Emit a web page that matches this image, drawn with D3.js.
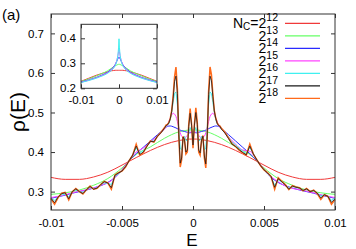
<!DOCTYPE html>
<html><head><meta charset="utf-8">
<script src="https://cdn.jsdelivr.net/npm/d3@7"></script>
<style>
body{margin:0;background:#fff;}
text{font-family:"Liberation Sans",Arial,Helvetica,sans-serif;fill:#000;}
</style></head>
<body><svg id="c" width="356" height="249"></svg>
<script>
// ---------- data ----------
const seriesNames = ["12","13","14","15","16","17","18"];
const seriesColors = ["#f03a3a","#66ff66","#2a2aff","#ff44ff","#3ff0f0","#1a1a1a","#ff6a1a"];

const xTicks = [-0.01,-0.005,0,0.005,0.01];
const xTickLabels = ["-0.01","-0.005","0","0.005","0.01"];
const yTicks = [0.3,0.4,0.5,0.6,0.7];
const yTickLabels = ["0.3","0.4","0.5","0.6","0.7"];

const eCoarse = [-0.01,-0.009,-0.008,-0.007,-0.006,-0.005,-0.004,-0.003,-0.002,-0.001,0,0.001,0.002,0.003,0.004,0.005,0.006,0.007,0.008,0.009,0.01];
const rho12 = [0.336,0.331,0.331,0.337,0.349,0.367,0.386,0.404,0.419,0.429,0.433,0.429,0.419,0.404,0.386,0.367,0.349,0.337,0.331,0.331,0.336];
const rho13 = [0.293,0.297,0.304,0.316,0.333,0.360,0.394,0.413,0.435,0.451,0.456,0.451,0.435,0.413,0.394,0.360,0.333,0.316,0.304,0.297,0.293];

const eMid = [-0.01,-0.0095,-0.009,-0.0085,-0.008,-0.0075,-0.007,-0.0065,-0.006,-0.0055,-0.005,-0.0045,-0.004,-0.0035,-0.003,-0.0025,
 -0.0022,-0.002,-0.0018,-0.0016,-0.0014,-0.0012,-0.001,-0.0008,-0.0006,-0.0004,-0.0002,0,0.0002,0.0004,0.0006,0.0008,0.001,0.0012,0.0014,0.0016,0.0018,0.002,0.0022,
 0.0025,0.003,0.0035,0.004,0.0045,0.005,0.0055,0.006,0.0065,0.007,0.0075,0.008,0.0085,0.009,0.0095,0.01];
const rho14 = [0.283,0.287,0.291,0.296,0.300,0.304,0.309,0.315,0.323,0.336,0.355,0.378,0.396,0.412,0.428,0.444,
 0.453,0.460,0.465,0.466,0.464,0.461,0.457,0.454,0.452,0.450,0.449,0.449,0.449,0.450,0.452,0.454,0.457,0.461,0.464,0.466,0.465,0.460,0.453,
 0.444,0.428,0.412,0.396,0.378,0.355,0.336,0.323,0.315,0.309,0.304,0.300,0.296,0.291,0.287,0.283];
const rho15 = [0.285,0.288,0.292,0.297,0.301,0.305,0.309,0.316,0.322,0.335,0.355,0.379,0.400,0.410,0.425,0.440,
 0.450,0.458,0.468,0.486,0.498,0.490,0.462,0.440,0.436,0.442,0.450,0.452,0.450,0.442,0.436,0.440,0.462,0.490,0.498,0.486,0.468,0.458,0.450,
 0.438,0.420,0.405,0.402,0.380,0.357,0.338,0.325,0.314,0.308,0.305,0.301,0.297,0.292,0.288,0.285];

const eFine = [-0.01,-0.00975,-0.0095,-0.00925,-0.009,-0.00875,-0.0085,-0.00825,-0.008,-0.00775,-0.0075,-0.00725,-0.007,-0.00675,-0.0065,-0.00625,-0.006,-0.00575,-0.0055,-0.00525,-0.005,-0.00475,-0.0045,-0.00425,-0.004,-0.00375,-0.0035,-0.00325,-0.003,-0.00275,-0.0025,-0.00225,-0.002,
 -0.0019,-0.0018,-0.0017,-0.0016,-0.0015,-0.0014,-0.0013,-0.0012,-0.0011,-0.001,-0.0009,-0.0008,-0.0007,-0.0006,-0.0005,-0.0004,-0.0003,-0.0002,-0.0001,0,0.0001,0.0002,0.0003,0.0004,0.0005,0.0006,0.0007,0.0008,0.0009,0.001,0.0011,0.0012,0.0013,0.0014,0.0015,0.0016,0.0017,0.0018,0.0019,
 0.002,0.00225,0.0025,0.00275,0.003,0.00325,0.0035,0.00375,0.004,0.00425,0.0045,0.00475,0.005,0.00525,0.0055,0.00575,0.006,0.00625,0.0065,0.00675,0.007,0.00725,0.0075,0.00775,0.008,0.00825,0.0085,0.00875,0.009,0.00925,0.0095,0.00975,0.01];
const rho16 = [0.283,0.278,0.287,0.292,0.293,0.287,0.300,0.304,0.300,0.298,0.305,0.310,0.307,0.310,0.317,0.322,0.321,0.318,0.338,0.345,0.353,0.364,0.379,0.393,0.410,0.398,0.404,0.415,0.427,0.428,0.440,0.449,0.460,
 0.465,0.468,0.472,0.482,0.500,0.525,0.548,0.552,0.520,0.460,0.410,0.405,0.430,0.440,0.430,0.428,0.448,0.462,0.455,0.445,0.455,0.462,0.448,0.428,0.430,0.440,0.430,0.405,0.410,0.460,0.520,0.552,0.548,0.525,0.500,0.482,0.472,0.468,0.465,
 0.458,0.449,0.438,0.425,0.418,0.410,0.402,0.396,0.412,0.396,0.380,0.367,0.356,0.347,0.337,0.316,0.330,0.324,0.317,0.309,0.313,0.311,0.308,0.304,0.306,0.301,0.302,0.297,0.288,0.293,0.289,0.278,0.283];
const rho17 = [0.283,0.272,0.286,0.295,0.297,0.282,0.300,0.307,0.300,0.295,0.305,0.313,0.306,0.309,0.318,0.325,0.322,0.310,0.341,0.347,0.352,0.363,0.378,0.392,0.415,0.394,0.400,0.414,0.427,0.426,0.440,0.449,0.461,
 0.467,0.469,0.474,0.484,0.503,0.535,0.578,0.592,0.548,0.445,0.372,0.385,0.438,0.432,0.400,0.405,0.465,0.498,0.468,0.418,0.468,0.500,0.470,0.405,0.398,0.430,0.440,0.390,0.370,0.440,0.545,0.592,0.580,0.540,0.504,0.485,0.473,0.467,0.465,
 0.458,0.448,0.434,0.420,0.414,0.406,0.399,0.393,0.415,0.395,0.380,0.366,0.355,0.347,0.338,0.311,0.333,0.325,0.317,0.306,0.314,0.311,0.309,0.303,0.307,0.300,0.303,0.296,0.284,0.292,0.288,0.273,0.281];
const rho18 = [0.282,0.268,0.285,0.296,0.298,0.279,0.300,0.308,0.300,0.294,0.305,0.314,0.306,0.308,0.318,0.326,0.322,0.306,0.342,0.348,0.352,0.362,0.378,0.392,0.420,0.392,0.398,0.415,0.428,0.425,0.440,0.450,0.462,
 0.468,0.470,0.475,0.485,0.505,0.540,0.590,0.615,0.560,0.440,0.362,0.380,0.440,0.430,0.395,0.400,0.470,0.510,0.470,0.410,0.470,0.512,0.475,0.400,0.392,0.428,0.442,0.385,0.360,0.435,0.555,0.615,0.595,0.545,0.505,0.486,0.474,0.468,0.466,
 0.460,0.450,0.436,0.421,0.414,0.405,0.398,0.392,0.420,0.395,0.380,0.366,0.355,0.348,0.338,0.306,0.335,0.326,0.318,0.305,0.315,0.312,0.310,0.302,0.308,0.300,0.304,0.295,0.280,0.292,0.288,0.268,0.280];

// inset
const insetXTicks = [-0.01,0,0.01];
const insetXTickLabels = ["-0.01","0","0.01"];
const insetYTicks = [0.2,0.3,0.4];
const insetYTickLabels = ["0.2","0.3","0.4"];
const insetE = [-0.01,-0.008,-0.006,-0.004,-0.003,-0.002,-0.0015,-0.001,-0.0006,-0.0003,-0.0001,0,0.0001,0.0003,0.0006,0.001,0.0015,0.002,0.003,0.004,0.006,0.008,0.01];
const inset12 = [0.228,0.240,0.252,0.262,0.266,0.270,0.271,0.272,0.272,0.272,0.272,0.272,0.272,0.272,0.272,0.272,0.271,0.270,0.266,0.262,0.252,0.240,0.228];
const inset13 = [0.227,0.237,0.249,0.262,0.270,0.280,0.285,0.290,0.293,0.295,0.296,0.296,0.296,0.295,0.293,0.290,0.285,0.280,0.270,0.262,0.249,0.237,0.227];
const inset14 = [0.225,0.233,0.243,0.256,0.264,0.276,0.284,0.295,0.308,0.318,0.323,0.324,0.323,0.318,0.308,0.295,0.284,0.276,0.264,0.256,0.243,0.233,0.225];
const inset15 = [0.224,0.232,0.242,0.254,0.262,0.273,0.281,0.293,0.310,0.330,0.348,0.356,0.348,0.330,0.310,0.293,0.281,0.273,0.262,0.254,0.242,0.232,0.224];
const inset16 = [0.223,0.231,0.240,0.252,0.260,0.271,0.279,0.290,0.307,0.330,0.365,0.398,0.365,0.330,0.307,0.290,0.279,0.271,0.260,0.252,0.240,0.231,0.223];

// ---------- drawing ----------
const svg = d3.select("#c");
const L=51,R=335,T=14,B=210;
const x = d3.scaleLinear().domain([-0.01,0.01]).range([L,R]);
const y = d3.scaleLinear().domain([0.2535,0.749]).range([B,T]);

const main = [
  {e:eCoarse,v:rho12,c:0,curve:d3.curveMonotoneX},
  {e:eCoarse,v:rho13,c:1,curve:d3.curveMonotoneX},
  {e:eMid,v:rho14,c:2,curve:d3.curveMonotoneX},
  {e:eMid,v:rho15,c:3,curve:d3.curveMonotoneX},
  {e:eFine,v:rho16,c:4,curve:d3.curveLinear},
  {e:eFine,v:rho18,c:6,curve:d3.curveLinear,w:1.5},
  {e:eFine,v:rho17,c:5,curve:d3.curveLinear,w:0.8}
];
const gLines = svg.append("g");
main.forEach(s=>{
  const pts = s.e.map((e,i)=>[e,s.v[i]]);
  gLines.append("path").attr("d", d3.line().x(d=>x(d[0])).y(d=>y(d[1])).curve(s.curve)(pts))
    .attr("fill","none").attr("stroke",seriesColors[s.c]).attr("stroke-width",s.w||1);
});

function axes(g, xs, ys, xt, xl, yt, yl, pad) {
  const [x0,x1]=xs.range(), [y0,y1]=ys.range();
  g.append("g").attr("transform",`translate(0,${y0})`)
    .call(d3.axisBottom(xs).tickValues(xt).tickFormat((d,i)=>xl[i]).tickSizeInner(-4).tickSizeOuter(0).tickPadding(pad.xb));
  g.append("g").attr("transform",`translate(0,${y1})`)
    .call(d3.axisTop(xs).tickValues(xt).tickFormat("").tickSizeInner(-4).tickSizeOuter(0));
  g.append("g").attr("transform",`translate(${x0},0)`)
    .call(d3.axisLeft(ys).tickValues(yt).tickFormat((d,i)=>yl[i]).tickSizeInner(-4).tickSizeOuter(0).tickPadding(pad.yl));
  g.append("g").attr("transform",`translate(${x1},0)`)
    .call(d3.axisRight(ys).tickValues(yt).tickFormat("").tickSizeInner(-4).tickSizeOuter(0));
  g.selectAll(".domain").remove();
  g.selectAll(".tick line").attr("stroke","#333");
  g.selectAll(".tick text").attr("font-size","11.5px").attr("font-family","Liberation Sans, Arial, sans-serif");
  g.append("rect").attr("x",x0).attr("y",y1).attr("width",x1-x0).attr("height",y0-y1)
    .attr("fill","none").attr("stroke","#333").attr("stroke-width",1);
}
axes(svg.append("g"), x, y, xTicks, xTickLabels, yTicks, yTickLabels, {xb:9, yl:7});

// inset
const xi = d3.scaleLinear().domain([-0.01,0.01]).range([81,157]);
const yi = d3.scaleLinear().domain([0.2,0.456]).range([88.3,24.3]);
const gi = svg.append("g");
gi.append("rect").attr("x",81).attr("y",24.3).attr("width",76).attr("height",64).attr("fill","#fff");
[inset12,inset13,inset14,inset15,inset16].forEach((arr,k)=>{
  const pts = insetE.map((e,i)=>[e,arr[i]]);
  gi.append("path").attr("d", d3.line().x(d=>xi(d[0])).y(d=>yi(d[1]))(pts))
    .attr("fill","none").attr("stroke",seriesColors[k]).attr("stroke-width",1);
});
axes(gi, xi, yi, insetXTicks, insetXTickLabels, insetYTicks, insetYTickLabels, {xb:8, yl:5});

// legend
const lg = svg.append("g");
seriesNames.forEach((n,i)=>{
  const yy = 23.3 + i*12.5;
  lg.append("line").attr("x1",285).attr("x2",320).attr("y1",yy).attr("y2",yy)
    .attr("stroke",seriesColors[i]).attr("stroke-width",1.3);
  const t = lg.append("text").attr("x",278).attr("y",yy+5).attr("text-anchor","end").attr("font-size","14px");
  if(i===0){
    t.append("tspan").text("N");
    t.append("tspan").attr("dy",2).attr("font-size","10px").text("C");
    t.append("tspan").attr("dy",-2).text("=2");
  } else {
    t.append("tspan").text("2");
  }
  t.append("tspan").attr("dy",-7).attr("font-size","10.5px").text(n);
});

// labels
svg.append("text").attr("x",2).attr("y",20).attr("font-size","15px").text("(a)");
svg.append("text").attr("x",192).attr("y",246).attr("text-anchor","middle").attr("font-size","17px").text("E");
svg.append("text").attr("transform","translate(25,112) rotate(-90)").attr("text-anchor","middle").attr("font-size","21px").text("ρ(E)");
</script></body></html>
